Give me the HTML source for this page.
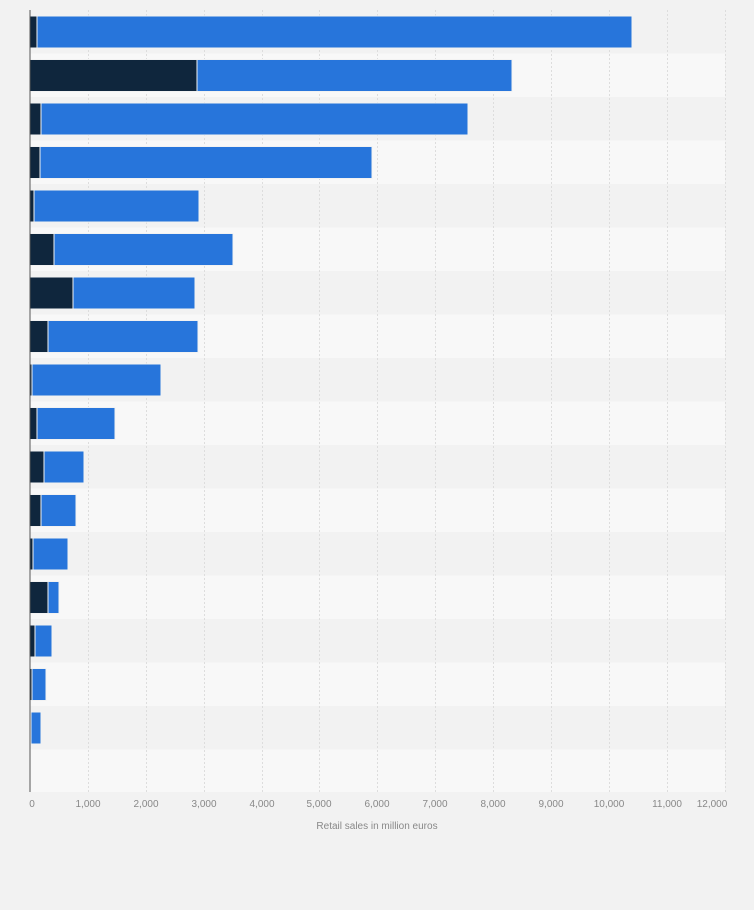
<!DOCTYPE html>
<html><head><meta charset="utf-8"><style>
html,body{margin:0;padding:0;background:#f2f2f2;}
svg{display:block;font-family:"Liberation Sans",sans-serif;}
</style></head><body>
<svg width="754" height="910" viewBox="0 0 754 910" xmlns="http://www.w3.org/2000/svg">
<rect width="754" height="910" fill="#f2f2f2"/>
<g>
<rect x="30" y="10" width="695" height="43.5" fill="#f2f2f2"/>
<rect x="30" y="53.5" width="695" height="43.5" fill="#f8f8f8"/>
<rect x="30" y="97" width="695" height="43.5" fill="#f2f2f2"/>
<rect x="30" y="140.5" width="695" height="43.5" fill="#f8f8f8"/>
<rect x="30" y="184" width="695" height="43.5" fill="#f2f2f2"/>
<rect x="30" y="227.5" width="695" height="43.5" fill="#f8f8f8"/>
<rect x="30" y="271" width="695" height="43.5" fill="#f2f2f2"/>
<rect x="30" y="314.5" width="695" height="43.5" fill="#f8f8f8"/>
<rect x="30" y="358" width="695" height="43.5" fill="#f2f2f2"/>
<rect x="30" y="401.5" width="695" height="43.5" fill="#f8f8f8"/>
<rect x="30" y="445" width="695" height="43.5" fill="#f2f2f2"/>
<rect x="30" y="488.5" width="695" height="43.5" fill="#f8f8f8"/>
<rect x="30" y="532" width="695" height="43.5" fill="#f2f2f2"/>
<rect x="30" y="575.5" width="695" height="43.5" fill="#f8f8f8"/>
<rect x="30" y="619" width="695" height="43.5" fill="#f2f2f2"/>
<rect x="30" y="662.5" width="695" height="43.5" fill="#f8f8f8"/>
<rect x="30" y="706" width="695" height="43.5" fill="#f2f2f2"/>
<rect x="30" y="749.5" width="695" height="42.5" fill="#f8f8f8"/>
</g>
<g stroke="#dddddd" stroke-width="1" stroke-dasharray="2,2">
<line x1="88.5" y1="10" x2="88.5" y2="792"/>
<line x1="146.5" y1="10" x2="146.5" y2="792"/>
<line x1="204.5" y1="10" x2="204.5" y2="792"/>
<line x1="262.5" y1="10" x2="262.5" y2="792"/>
<line x1="319.5" y1="10" x2="319.5" y2="792"/>
<line x1="377.5" y1="10" x2="377.5" y2="792"/>
<line x1="435.5" y1="10" x2="435.5" y2="792"/>
<line x1="493.5" y1="10" x2="493.5" y2="792"/>
<line x1="551.5" y1="10" x2="551.5" y2="792"/>
<line x1="609.5" y1="10" x2="609.5" y2="792"/>
<line x1="667.5" y1="10" x2="667.5" y2="792"/>
<line x1="725.5" y1="10" x2="725.5" y2="792"/>
</g>
<g stroke="#f2f2f2" stroke-width="1">
<rect x="30" y="16" width="7" height="32" fill="#0f263d"/><rect x="37" y="16" width="595" height="32" fill="#2775db"/>
<rect x="30" y="59.5" width="167" height="32" fill="#0f263d"/><rect x="197" y="59.5" width="315" height="32" fill="#2775db"/>
<rect x="30" y="103" width="11" height="32" fill="#0f263d"/><rect x="41" y="103" width="427" height="32" fill="#2775db"/>
<rect x="30" y="146.5" width="10" height="32" fill="#0f263d"/><rect x="40" y="146.5" width="332" height="32" fill="#2775db"/>
<rect x="30" y="190" width="4" height="32" fill="#0f263d"/><rect x="34" y="190" width="165" height="32" fill="#2775db"/>
<rect x="30" y="233.5" width="24" height="32" fill="#0f263d"/><rect x="54" y="233.5" width="179" height="32" fill="#2775db"/>
<rect x="30" y="277" width="43" height="32" fill="#0f263d"/><rect x="73" y="277" width="122" height="32" fill="#2775db"/>
<rect x="30" y="320.5" width="18" height="32" fill="#0f263d"/><rect x="48" y="320.5" width="150" height="32" fill="#2775db"/>
<rect x="30" y="364" width="2" height="32" fill="#0f263d"/><rect x="32" y="364" width="129" height="32" fill="#2775db"/>
<rect x="30" y="407.5" width="7" height="32" fill="#0f263d"/><rect x="37" y="407.5" width="78" height="32" fill="#2775db"/>
<rect x="30" y="451" width="14" height="32" fill="#0f263d"/><rect x="44" y="451" width="40" height="32" fill="#2775db"/>
<rect x="30" y="494.5" width="11" height="32" fill="#0f263d"/><rect x="41" y="494.5" width="35" height="32" fill="#2775db"/>
<rect x="30" y="538" width="3" height="32" fill="#0f263d"/><rect x="33" y="538" width="35" height="32" fill="#2775db"/>
<rect x="30" y="581.5" width="18" height="32" fill="#0f263d"/><rect x="48" y="581.5" width="11" height="32" fill="#2775db"/>
<rect x="30" y="625" width="5" height="32" fill="#0f263d"/><rect x="35" y="625" width="17" height="32" fill="#2775db"/>
<rect x="30" y="668.5" width="2" height="32" fill="#0f263d"/><rect x="32" y="668.5" width="14" height="32" fill="#2775db"/>
<rect x="30" y="712" width="1" height="32" fill="#0f263d"/><rect x="31" y="712" width="10" height="32" fill="#2775db"/>
</g>
<line x1="30" y1="10" x2="30" y2="792" stroke="#555" stroke-width="1"/>
<g font-size="10" fill="#888" text-anchor="middle">
<text x="32" y="807">0</text>
<text x="88" y="807">1,000</text>
<text x="146" y="807">2,000</text>
<text x="204" y="807">3,000</text>
<text x="262" y="807">4,000</text>
<text x="319" y="807">5,000</text>
<text x="377" y="807">6,000</text>
<text x="435" y="807">7,000</text>
<text x="493" y="807">8,000</text>
<text x="551" y="807">9,000</text>
<text x="609" y="807">10,000</text>
<text x="667" y="807">11,000</text>
<text x="712" y="807">12,000</text>
<text x="377" y="829">Retail sales in million euros</text>
</g>
</svg>
</body></html>
